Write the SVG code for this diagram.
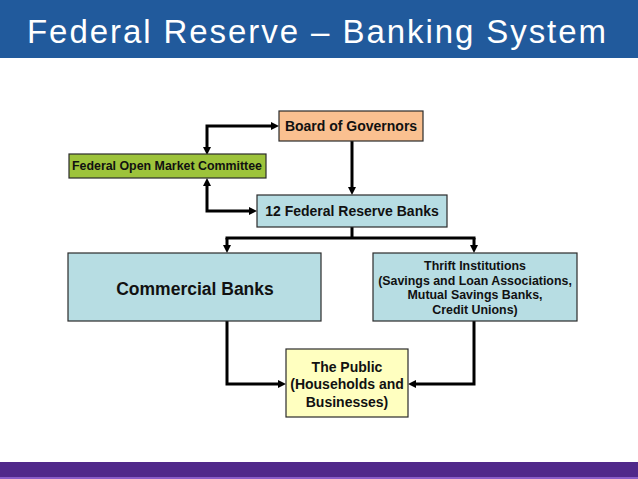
<svg xmlns="http://www.w3.org/2000/svg" width="638" height="479" viewBox="0 0 638 479">
<style>
.box{stroke:#2b2b2b;stroke-width:1.2}
.t{font-family:"Liberation Sans",Arial,sans-serif;font-weight:bold;fill:#111;text-anchor:middle}
.c{fill:none;stroke:#000;stroke-width:3}
.a{marker-end:url(#ah)}
.b{marker-start:url(#ah);marker-end:url(#ah)}
</style>
<defs>
<marker id="ah" viewBox="0 0 8 8" refX="2" refY="4" markerWidth="8" markerHeight="8" markerUnits="userSpaceOnUse" orient="auto-start-reverse">
<path d="M0,0 L8,4 L0,8 z" fill="#000"/>
</marker>
</defs>
<rect width="638" height="479" fill="#fff"/>
<g id="header">
<rect x="0" y="0" width="638" height="58" fill="#215A9C"/>
<text x="27" y="43" font-family="'Liberation Sans',Arial,sans-serif" font-size="33" fill="#fff" textLength="579" lengthAdjust="spacing">Federal Reserve – Banking System</text>
</g>
<g id="footer">
<rect x="0" y="462" width="638" height="17" fill="#50288A"/>
<rect x="0" y="477" width="638" height="2" fill="#8A5CC8"/>
</g>
<g id="connectors">
<path class="c b" d="M207,149 V126 H273"/>
<path class="c b" d="M207,184 V211 H251"/>
<path class="c a" d="M352,141 V189"/>
<path class="c" d="M352,227 V238 M225.5,238 H475.5"/>
<path class="c a" d="M227,238 V247"/>
<path class="c a" d="M474,238 V247"/>
<path class="c a" d="M227,321 V384 H280"/>
<path class="c a" d="M474,321 V384 H414"/>
</g>
<g id="board">
<rect class="box" x="279" y="111" width="144" height="30" fill="#FAC090"/>
<text class="t" x="351" y="131" font-size="14">Board of Governors</text>
</g>
<g id="fomc">
<rect class="box" x="69" y="154" width="197" height="24" fill="#9DC33B"/>
<text class="t" x="167" y="170" font-size="12.4">Federal Open Market Committee</text>
</g>
<g id="frb">
<rect class="box" x="257" y="195" width="190" height="32" fill="#B7DDE3"/>
<text class="t" x="352" y="216" font-size="14">12 Federal Reserve Banks</text>
</g>
<g id="commercial">
<rect class="box" x="68" y="253" width="253" height="68" fill="#B7DDE3"/>
<text class="t" x="195" y="295" font-size="17.5">Commercial Banks</text>
</g>
<g id="thrift">
<rect class="box" x="373" y="253" width="204" height="68" fill="#B7DDE3"/>
<text class="t" font-size="12.4"><tspan x="475" y="270">Thrift Institutions</tspan><tspan x="475" y="284.7">(Savings and Loan Associations,</tspan><tspan x="475" y="299.3">Mutual Savings Banks,</tspan><tspan x="475" y="314">Credit Unions)</tspan></text>
</g>
<g id="public">
<rect class="box" x="286" y="349" width="122" height="68" fill="#FFFFC0"/>
<text class="t" font-size="14"><tspan x="347" y="372">The Public</tspan><tspan x="347" y="389">(Households and</tspan><tspan x="347" y="407">Businesses)</tspan></text>
</g>
</svg>
